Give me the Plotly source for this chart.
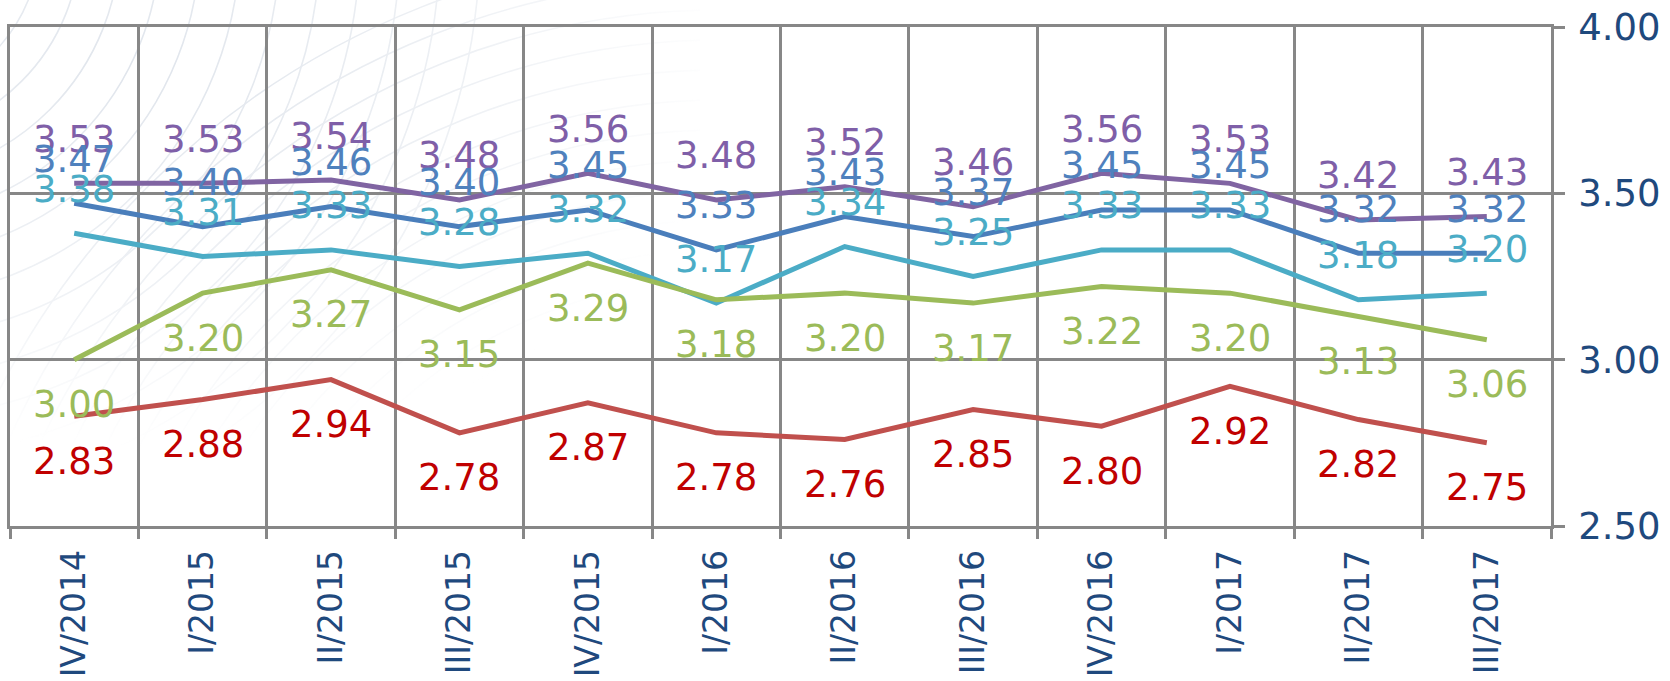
import base64
import plotly.graph_objects as go

# Quarter labels along the x axis
quarters = ["IV/2014", "I/2015", "II/2015", "III/2015", "IV/2015", "I/2016",
            "II/2016", "III/2016", "IV/2016", "I/2017", "II/2017", "III/2017"]

# Quarterly scores for each series
series_a = [3.53, 3.53, 3.54, 3.48, 3.56, 3.48, 3.52, 3.46, 3.56, 3.53, 3.42, 3.43]
series_b = [3.47, 3.40, 3.46, 3.40, 3.45, 3.33, 3.43, 3.37, 3.45, 3.45, 3.32, 3.32]
series_c = [3.38, 3.31, 3.33, 3.28, 3.32, 3.17, 3.34, 3.25, 3.33, 3.33, 3.18, 3.20]
series_d = [3.00, 3.20, 3.27, 3.15, 3.29, 3.18, 3.20, 3.17, 3.22, 3.20, 3.13, 3.06]
series_e = [2.83, 2.88, 2.94, 2.78, 2.87, 2.78, 2.76, 2.85, 2.80, 2.92, 2.82, 2.75]

y_ticks = [2.50, 3.00, 3.50, 4.00]

FONT = "DejaVu Sans"
AXIS_TEXT = "#1F497D"
GRID = "#878787"

# (values, line colour, label colour, label shift in px: + above, - below)
styles = [
    (series_a, "#8064A2", "#7F5FA8", 44),
    (series_b, "#4A7EBB", "#4F81BD", 44),
    (series_c, "#4BACC6", "#4BACC6", 44),
    (series_d, "#9BBB59", "#9BBB59", -45),
    (series_e, "#C0504D", "#C00000", -45),
]

fig = go.Figure()
annotations = []
for vals, line_col, text_col, shift in styles:
    fig.add_trace(go.Scatter(
        x=quarters, y=vals, mode="lines",
        line=dict(color=line_col, width=5),
        hoverinfo="x+y", showlegend=False,
    ))
    for q, v in zip(quarters, vals):
        annotations.append(dict(
            x=q, y=v, text=f"{v:.2f}", showarrow=False,
            xanchor="center", yanchor="middle", yshift=shift,
            font=dict(family=FONT, size=37, color=text_col),
        ))

# faint decorative arcs in the upper-left background
arcs = []
for r in range(360, 820, 30):
    arcs.append(f'<circle cx="720" cy="760" r="{r}" />')
for r in range(160, 620, 40):
    arcs.append(f'<circle cx="-120" cy="-60" r="{r}" />')
svg = (
    '<svg xmlns="http://www.w3.org/2000/svg" width="700" height="450" viewBox="0 0 700 450">'
    '<defs><radialGradient id="g" cx="0.2" cy="0.15" r="0.85">'
    '<stop offset="0" stop-color="white" stop-opacity="1"/>'
    '<stop offset="0.55" stop-color="white" stop-opacity="0.55"/>'
    '<stop offset="1" stop-color="white" stop-opacity="0"/></radialGradient>'
    '<mask id="m"><rect width="700" height="450" fill="url(#g)"/></mask></defs>'
    '<g mask="url(#m)" fill="none" stroke="#E0E5EC" stroke-width="1.6">'
    + "".join(arcs) + '</g></svg>'
)
bg_src = "data:image/svg+xml;base64," + base64.b64encode(svg.encode()).decode()

fig.update_layout(
    width=1670, height=681,
    margin=dict(l=10, r=119, t=27, b=155),
    paper_bgcolor="white",
    plot_bgcolor="rgba(0,0,0,0)",
    font=dict(family=FONT, color=AXIS_TEXT),
    annotations=annotations,
    images=[dict(source=bg_src, xref="paper", yref="paper", x=-10 / 1541, y=1 + 27 / 499,
                 sizex=700 / 1541, sizey=450 / 499, xanchor="left", yanchor="top",
                 sizing="stretch", layer="below")],
)

fig.update_xaxes(
    type="category", range=[-0.5, len(quarters) - 0.5], automargin=False,
    tickson="boundaries", ticks="outside", ticklen=10, tickwidth=2.5, tickcolor=GRID,
    showgrid=True, gridcolor=GRID, gridwidth=2.5,
    showline=True, linecolor=GRID, linewidth=2.5, mirror=True,
    tickangle=-90, tickfont=dict(family=FONT, size=33, color=AXIS_TEXT),
    ticklabelstandoff=8,
)
fig.update_yaxes(
    side="right", range=[2.5, 4.0], tickvals=y_ticks, automargin=False,
    ticktext=[f"{t:.2f}" for t in y_ticks],
    ticks="outside", ticklen=11, tickwidth=2.5, tickcolor=GRID,
    showgrid=True, gridcolor=GRID, gridwidth=2.5, zeroline=False,
    showline=True, linecolor=GRID, linewidth=2.5, mirror=True,
    tickfont=dict(family=FONT, size=37, color=AXIS_TEXT),
    ticklabelstandoff=6,
)

fig.write_html("out.html")
